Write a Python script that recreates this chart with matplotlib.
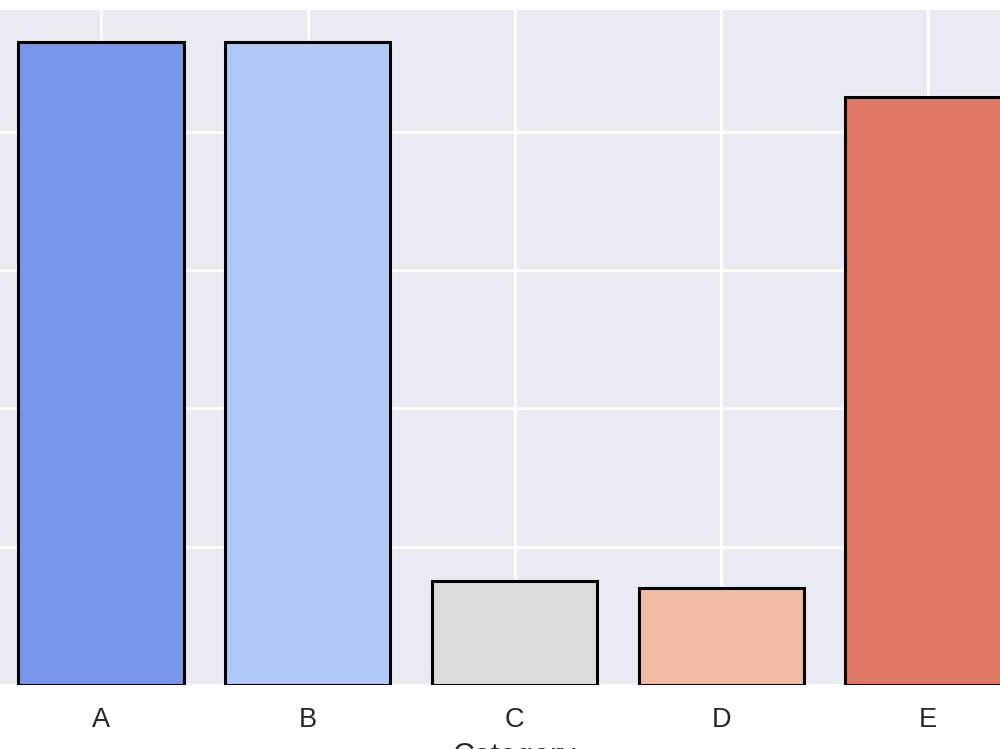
import matplotlib
matplotlib.use("Agg")
import matplotlib.pyplot as plt
import seaborn as sns

categories = ["A", "B", "C", "D", "E"]
values = [93, 93, 15, 14, 85]
title = "Values by Category"
xlabel = "Category"
ylabel = "Value"

sns.set_style("darkgrid")
plt.rcParams['font.family'] = ['Liberation Sans', 'DejaVu Sans']

fig = plt.figure(figsize=(10, 7.49), dpi=100)
ax = fig.add_axes([-0.0025, 0.0855, 1.034, 0.9012])
palette = [sns.desaturate(c, 0.88) for c in sns.color_palette("coolwarm", len(categories))]
ax.bar(categories, values, width=0.8, color=palette, edgecolor="black", linewidth=2.2, zorder=3)
ax.set_yticks([0, 20, 40, 60, 80])
ax.set_xlim(-0.5, len(categories) - 0.5)
ax.set_ylim(0, max(values) * 1.05)
ax.grid(True, color="white", linewidth=2.0, zorder=0)
ax.set_axisbelow(True)
for s in ax.spines.values():
    s.set_visible(False)
ax.tick_params(axis="x", labelsize=19.5, pad=16, length=0, colors="#262626")
ax.tick_params(axis="y", labelsize=19, length=0)
ax.set_xlabel(xlabel, fontsize=22, labelpad=6, color="#262626")
ax.set_ylabel(ylabel, fontsize=22)
ax.set_title(title, fontsize=24, fontweight="bold", pad=14)
fig.savefig("out.png", dpi=100)
